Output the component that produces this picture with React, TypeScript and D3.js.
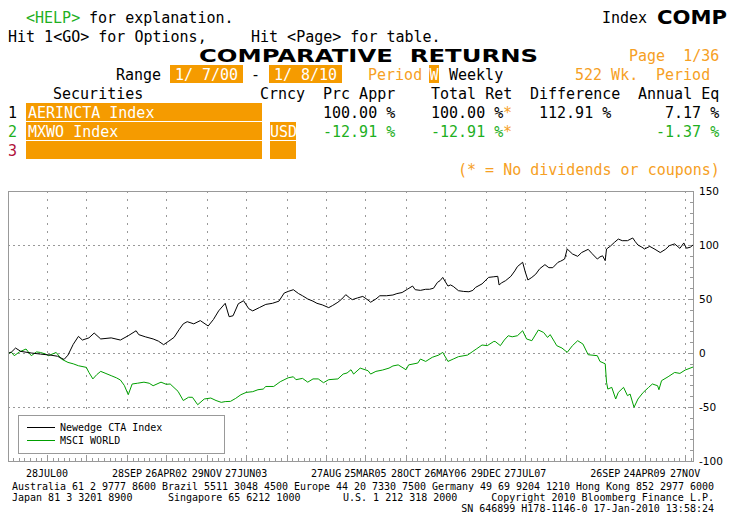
import React from "react";
import * as d3 from "d3";

// ---------- data ----------
const START = "2000-01-07";
const END = "2010-01-08";

// Newedge CTA Index (AERINCTA) – weeks since start, cumulative return %
const ctaWeeks = [0,2,5,9,17,24,32,37,42,45,49,53,56,61,65,70,78,85,91,97,99,104,110,114,118,122,126,130,133,136,141,146,152,156,160,165,168,171,175,179,183,186,191,196,201,206,210,213,217,221,224,228,232,235,239,244,247,251,254,257,260,262,266,270,274,276,280,283,288,293,296,300,304,308,310,314,318,321,324,327,329,331,335,337,339,343,347,351,354,356,361,366,370,373,374,376,379,383,386,388,392,394,396,399,402,405,409,412,415,419,421,424,426,430,434,437,442,445,449,451,453,455,456,459,462,465,468,472,476,478,480,483,485,489,493,497,501,504,508,512,515,517,520,522];
const ctaValues = [0,1,4.6,1.5,0,-1,-2,-3,-6,-2,8,15.4,12,14,18.5,13,14,12,16,20.6,17,15,13,11,7.7,11,14.5,22,27,29,27,30,25,31,39,46,33.6,34.5,45.6,48.4,41,39,42,45,46,48,55.5,57,58.6,55,53,50,48,46,44.6,42,44,47,50,54,51,49.4,51,52.4,49,47,50,53,53,53.7,55,56,59,62,58.6,58,59,59,60,65.4,67,70,62,63,61.7,57.7,57,56.7,58,60.7,64,70,70.6,71,63,65,67,71,76,80,84,75,67.6,70,73,78,81.8,79,79,84,85,87,96.3,91.7,89.5,93,96,92,87,89,90,85.5,96.3,99,102.4,105.5,104,104,106.5,103,100,98,96.3,98.7,96,93,96,99.4,101,96.9,101.9,97,98,100];

// MSCI WORLD (MXWO) – weeks since start, cumulative return %
const msciWeeks = [0,2,4,8,13,17,21,24,28,30,36,40,45,49,53,59,61,64,67,70,74,78,82,85,88,91,94,98,103,107,110,116,120,123,129,133,137,140,144,149,154,158,162,165,169,173,177,181,186,190,194,196,202,207,213,217,219,224,228,232,236,240,244,251,255,258,261,263,268,274,276,280,285,290,293,297,303,305,312,314,318,323,328,331,335,339,343,350,354,357,361,365,370,371,375,378,381,384,388,392,395,399,404,408,411,413,416,418,422,426,430,434,438,442,449,451,455,456,457,460,463,465,469,472,474,477,480,484,488,491,495,496,498,503,508,512,516,522];
const msciValues = [0,0.5,-2.5,1,3.7,-2.5,1,0.5,-1,-2.5,0.5,-5.6,-8.7,-10,-11.8,-13.3,-18,-24,-20,-17,-19,-21,-23,-25,-30,-38.6,-28.7,-28,-27,-28,-30.3,-27,-29,-28.7,-35.5,-44,-41,-41,-47.9,-42.6,-41.7,-44,-45.7,-45,-44.8,-42,-38.6,-36.5,-35.8,-34,-33.4,-31,-31,-26.6,-23,-22,-24.7,-23.5,-27,-24,-24,-27.5,-24.7,-24,-19.5,-18.5,-15.5,-19.5,-14,-16.4,-19.5,-17,-15.8,-14,-12,-11,-15.5,-11,-9.3,-5.6,-7.8,-4,-1.9,0.6,-7.8,-5.6,-3.4,-1.9,1.5,4,7.4,6.8,10.7,10.7,6.8,12,16,15,16,20.6,13,11.4,21.3,19,14.4,17,11,6.8,4.6,0.6,6.8,11.4,8.3,-1.6,-2.5,-7.8,-10,-27,-33.4,-31.8,-42.6,-36.5,-31.8,-39.5,-38,-50.3,-42.6,-36.5,-32,-28.7,-30.3,-34,-25.6,-22,-18,-18.9,-15.8,-13];

const gridDates = ["2000-07-28","2001-02-23","2001-09-28","2002-04-26","2002-11-29","2003-06-27","2004-01-30","2004-08-27","2005-03-25","2005-10-28","2006-05-26","2006-12-29","2007-07-27","2008-02-29","2008-09-26","2009-04-24","2009-11-27"];
const gridLabels = ["28JUL00","","28SEP","26APR02","29NOV","27JUN03","","27AUG","25MAR05","28OCT","26MAY06","29DEC","27JUL07","","26SEP","24APR09","27NOV"];
const yTicks = [150, 100, 50, 0, -50, -100];
const seriesNames = ["Newedge CTA Index", "MSCI WORLD"];

const footer1 = "Australia 61 2 9777 8600 Brazil 5511 3048 4500 Europe 44 20 7330 7500 Germany 49 69 9204 1210 Hong Kong 852 2977 6000";
const footer2 = ["Japan 81 3 3201 8900", "Singapore 65 6212 1000", "U.S. 1 212 318 2000", "Copyright 2010 Bloomberg Finance L.P."];
const footer3 = "SN 646899 H178-1146-0 17-Jan-2010 13:58:24";

// ---------- styles ----------
const ORANGE_BOX = "#f59b00";
const ORANGE_TXT = "#f6a024";
const GREEN_TXT = "#1fb01f";
const MONO = "'DejaVu Sans Mono', monospace";
const SANS = "'DejaVu Sans', sans-serif";

const W = 736, H = 527;
const PL = 8, PR = 693, PT = 191, PB = 461;

const parse = d3.utcParse("%Y-%m-%d");

export default function App() {
  const start = parse(START)!;
  const end = parse(END)!;
  const x = d3.scaleUtc().domain([start, end]).range([PL + 1, PR]);
  const y = d3.scaleLinear().domain([-100, 150]).range([PB, PT]);
  const wk = (w: number) => d3.utcDay.offset(start, w * 7);

  const ctaData = ctaWeeks.map((w, i) => ({ d: wk(w), v: ctaValues[i] }));
  const msciData = msciWeeks.map((w, i) => ({ d: wk(w), v: msciValues[i] }));
  const line = d3.line<{ d: Date; v: number }>().x((p) => x(p.d)).y((p) => y(p.v));

  const gx = gridDates.map((s) => x(parse(s)!));
  const step = (gx[gx.length - 1] - gx[0]) / ((gx.length - 1) * 7);
  const minorX: number[] = [];
  for (let v = gx[0] - step; v > PL + 1; v -= step) minorX.push(v);
  for (let i = 0; i < gx.length - 1; i++) {
    const s = (gx[i + 1] - gx[i]) / 7;
    for (let k = 1; k < 7; k++) minorX.push(gx[i] + k * s);
  }
  for (let v = gx[gx.length - 1] + step; v < PR; v += step) minorX.push(v);
  const minorY = d3.range(-100, 151, 10);

  const col = (c: number) => 8 + c * 9;
  const rowC = (r: number) => 17 + 19 * r;
  const base = (r: number) => rowC(r) + 5.5;

  const T = (props: any) => (
    <text fontFamily={MONO} fontSize={15} style={{ whiteSpace: "pre" }} {...props} />
  );

  return (
    <svg width={W} height={H} viewBox={`0 0 ${W} ${H}`} style={{ position: "absolute", left: 0, top: 0, background: "#fff" }}>
      <rect x={0} y={0} width={W} height={H} fill="#fff" />

      {/* ----- header ----- */}
      <T x={col(2)} y={base(0)} fill={GREEN_TXT}>{"<HELP>"}</T>
      <T x={col(8)} y={base(0)} fill="#000">{" for explanation."}</T>
      <T x={col(66)} y={base(0)} fill="#000">Index</T>
      <text x={657} y={base(0) + 1} fontFamily={SANS} fontWeight="bold" fontSize={19} textLength={70} lengthAdjust="spacingAndGlyphs">COMP</text>

      <T x={col(0)} y={base(1)} fill="#000">{"Hit 1<GO> for Options,"}</T>
      <T x={col(27)} y={base(1)} fill="#000">{"Hit <Page> for table."}</T>

      <text x={199} y={base(2) + 1} fontFamily={SANS} fontWeight="bold" fontSize={18} textLength={339} lengthAdjust="spacingAndGlyphs" style={{ whiteSpace: "pre" }}>COMPARATIVE  RETURNS</text>
      <T x={col(69)} y={base(2)} fill={ORANGE_TXT}>{"Page  1/36"}</T>

      <T x={col(12)} y={base(3)} fill="#000">Range</T>
      <rect x={170} y={rowC(3) - 9} width={73} height={18} fill={ORANGE_BOX} />
      <T x={206.5} y={base(3)} fill="#fff" textAnchor="middle">{"1/ 7/00"}</T>
      <T x={col(27)} y={base(3)} fill="#000">-</T>
      <rect x={269} y={rowC(3) - 9} width={73} height={18} fill={ORANGE_BOX} />
      <T x={305.5} y={base(3)} fill="#fff" textAnchor="middle">{"1/ 8/10"}</T>
      <T x={col(40)} y={base(3)} fill={ORANGE_TXT}>Period</T>
      <rect x={429} y={rowC(3) - 9} width={10} height={18} fill={ORANGE_BOX} />
      <T x={434} y={base(3)} fill="#fff" textAnchor="middle">W</T>
      <T x={col(49)} y={base(3)} fill="#000">Weekly</T>
      <T x={col(63)} y={base(3)} fill={ORANGE_TXT}>{"522 Wk."}</T>
      <T x={col(72)} y={base(3)} fill={ORANGE_TXT}>Period</T>

      <T x={col(5)} y={base(4)} fill="#000">Securities</T>
      <T x={col(28)} y={base(4)} fill="#000">Crncy</T>
      <T x={col(35)} y={base(4)} fill="#000">Prc Appr</T>
      <T x={col(47)} y={base(4)} fill="#000">Total Ret</T>
      <T x={col(58)} y={base(4)} fill="#000">Difference</T>
      <T x={col(70)} y={base(4)} fill="#000">Annual Eq</T>

      {/* row 1 */}
      <T x={col(0)} y={base(5)} fill="#000">1</T>
      <rect x={26} y={rowC(5) - 9} width={236} height={18} fill={ORANGE_BOX} />
      <T x={28} y={base(5)} fill="#fff">AERINCTA Index</T>
      <T x={col(35)} y={base(5)} fill="#000">100.00 %</T>
      <T x={col(47)} y={base(5)} fill="#000">100.00 %</T>
      <T x={col(55)} y={base(5)} fill={ORANGE_TXT}>*</T>
      <T x={col(59)} y={base(5)} fill="#000">112.91 %</T>
      <T x={col(73)} y={base(5)} fill="#000">7.17 %</T>

      {/* row 2 */}
      <T x={col(0)} y={base(6)} fill={GREEN_TXT}>2</T>
      <rect x={26} y={rowC(6) - 9} width={236} height={18} fill={ORANGE_BOX} />
      <T x={28} y={base(6)} fill="#fff">MXWO Index</T>
      <rect x={270} y={rowC(6) - 9} width={26} height={18} fill={ORANGE_BOX} />
      <T x={270} y={base(6)} fill="#fff">USD</T>
      <T x={col(35)} y={base(6)} fill={GREEN_TXT}>-12.91 %</T>
      <T x={col(47)} y={base(6)} fill={GREEN_TXT}>-12.91 %</T>
      <T x={col(55)} y={base(6)} fill={ORANGE_TXT}>*</T>
      <T x={col(72)} y={base(6)} fill={GREEN_TXT}>-1.37 %</T>

      {/* row 3 */}
      <T x={col(0)} y={base(7)} fill="#b0103a">3</T>
      <rect x={26} y={rowC(7) - 9} width={236} height={18} fill={ORANGE_BOX} />
      <rect x={270} y={rowC(7) - 9} width={26} height={18} fill={ORANGE_BOX} />

      <T x={col(50)} y={base(8)} fill={ORANGE_TXT}>{"(* = No dividends or coupons)"}</T>

      {/* ----- chart ----- */}
      <g shapeRendering="crispEdges">
        {yTicks.filter((t) => t !== 150 && t !== -100).map((t) => (
          <line key={"h" + t} x1={PL} x2={PR} y1={Math.round(y(t)) + 0.5} y2={Math.round(y(t)) + 0.5} stroke="#999" strokeDasharray="2,3" />
        ))}
        {gx.map((v, i) => (
          <line key={"v" + i} x1={Math.round(v) + 0.5} x2={Math.round(v) + 0.5} y1={PT} y2={PB} stroke="#999" strokeDasharray="2,6" />
        ))}
        {minorX.map((v, i) => (
          <line key={"mx" + i} x1={Math.round(v) + 0.5} x2={Math.round(v) + 0.5} y1={PB} y2={PB - 3} stroke="#999" />
        ))}
        {gx.map((v, i) => (
          <line key={"Mx" + i} x1={Math.round(v) + 0.5} x2={Math.round(v) + 0.5} y1={PB} y2={PB - 5} stroke="#999" />
        ))}
        {minorY.map((t) => (
          <line key={"my" + t} x1={PR} x2={PR - (t % 50 === 0 ? 5 : 3)} y1={Math.round(y(t)) + 0.5} y2={Math.round(y(t)) + 0.5} stroke="#999" />
        ))}
        <rect x={PL + 0.5} y={PT + 0.5} width={PR - PL} height={PB - PT} fill="none" stroke="#999" />
      </g>

      <path d={line(msciData) || ""} fill="none" stroke="#009f00" strokeWidth={1} />
      <path d={line(ctaData) || ""} fill="none" stroke="#000" strokeWidth={1} />

      {yTicks.map((t) => (
        <text key={"yl" + t} x={699} y={y(t) + 4} fontFamily={SANS} fontSize={10.5} fill="#000">{t}</text>
      ))}
      {gridLabels.map((s, i) =>
        s ? (
          <text key={"xl" + i} x={gx[i]} y={477} textAnchor="middle" fontFamily={MONO} fontSize={10} fill="#000">{s}</text>
        ) : null
      )}

      {/* legend */}
      <rect x={18.5} y={415.5} width={206} height={38} fill="#fff" stroke="#999" shapeRendering="crispEdges" />
      <line x1={27} x2={55} y1={427.5} y2={427.5} stroke="#000" />
      <line x1={27} x2={55} y1={440.5} y2={440.5} stroke="#009f00" />
      <text x={60} y={431} fontFamily={MONO} fontSize={10}>{seriesNames[0]}</text>
      <text x={60} y={444} fontFamily={MONO} fontSize={10}>{seriesNames[1]}</text>

      {/* footer */}
      <text x={12} y={490} fontFamily={MONO} fontSize={10} textLength={702} lengthAdjust="spacingAndGlyphs">{footer1}</text>
      <text x={12} y={501} fontFamily={MONO} fontSize={10}>{footer2[0]}</text>
      <text x={168} y={501} fontFamily={MONO} fontSize={10}>{footer2[1]}</text>
      <text x={343} y={501} fontFamily={MONO} fontSize={10}>{footer2[2]}</text>
      <text x={714} y={501} fontFamily={MONO} fontSize={10} textAnchor="end">{footer2[3]}</text>
      <text x={714} y={512} fontFamily={MONO} fontSize={10} textAnchor="end">{footer3}</text>
    </svg>
  );
}
